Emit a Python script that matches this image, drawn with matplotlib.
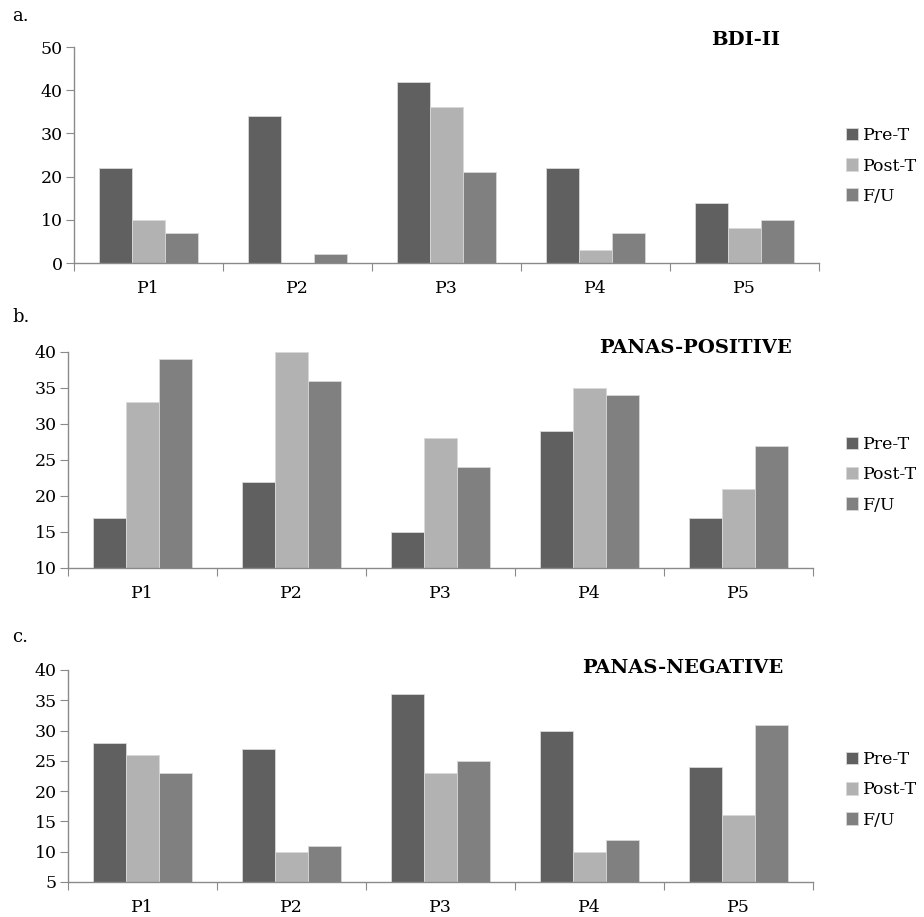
import matplotlib
matplotlib.use("Agg")
import matplotlib.pyplot as plt
import numpy as np

plt.rcParams['font.family'] = ['DejaVu Serif']

participants = ['P1', 'P2', 'P3', 'P4', 'P5']
series_names = ['Pre-T', 'Post-T', 'F/U']
colors = ['#606060', '#b2b2b2', '#808080']

bdi_pre = [22, 34, 42, 22, 14]
bdi_post = [10, 0, 36, 3, 8]
bdi_fu = [7, 2, 21, 7, 10]

pos_pre = [17, 22, 15, 29, 17]
pos_post = [33, 40, 28, 35, 21]
pos_fu = [39, 36, 24, 34, 27]

neg_pre = [28, 27, 36, 30, 24]
neg_post = [26, 10, 23, 10, 16]
neg_fu = [23, 11, 25, 12, 31]

W, H = 924, 917
fig = plt.figure(figsize=(W / 100, H / 100), dpi=100)


def px_axes(left, right, top, bottom):
    return fig.add_axes([left / W, 1 - bottom / H, (right - left) / W, (bottom - top) / H])


def draw_panel(ax, data, ylim, yticks, title, title_xy, letter, letter_xy, legend_xy):
    x = np.arange(len(participants))
    bw = 0.22
    bars = []
    for i, vals in enumerate(data):
        b = ax.bar(x + (i - 1) * bw, np.array(vals) - ylim[0], bw, bottom=ylim[0],
                   color=colors[i], edgecolor='#d8d8d8', linewidth=0.6, label=series_names[i])
        bars.append(b)
    ax.set_xlim(-0.5, len(participants) - 0.5)
    ax.set_ylim(*ylim)
    ax.set_yticks(yticks)
    ax.set_xticks(np.arange(-0.5, len(participants)), minor=False)
    ax.set_xticklabels([])
    ax.set_xticks(x, minor=True)
    ax.set_xticklabels(participants, minor=True)
    ax.tick_params(axis='x', which='minor', length=0, pad=12, labelsize=12.5)
    ax.tick_params(axis='x', which='major', length=6, color='#8a8a8a', direction='out')
    ax.tick_params(axis='y', length=6, color='#8a8a8a', labelsize=12.5, pad=2)
    for s in ['top', 'right']:
        ax.spines[s].set_visible(False)
    for s in ['left', 'bottom']:
        ax.spines[s].set_color('#8a8a8a')
        ax.spines[s].set_linewidth(1.0)
    fig.text(title_xy[0] / W, 1 - title_xy[1] / H, title, ha='center', va='center',
             fontsize=14, fontweight='bold')
    fig.text(letter_xy[0] / W, 1 - letter_xy[1] / H, letter, ha='left', va='center',
             fontsize=13)
    ax.legend(loc='center left', bbox_to_anchor=(legend_xy[0] / W, 1 - legend_xy[1] / H),
              bbox_transform=fig.transFigure, frameon=False, fontsize=12.5,
              handlelength=0.7, handleheight=0.7, handletextpad=0.3, labelspacing=0.75,
              borderpad=0, borderaxespad=0)


ax1 = px_axes(74, 819, 47, 263)
draw_panel(ax1, [bdi_pre, bdi_post, bdi_fu], (0, 50), range(0, 51, 10),
           'BDI-II', (746, 40), 'a.', (12, 16), (846, 166))

ax2 = px_axes(68, 813, 352, 568)
draw_panel(ax2, [pos_pre, pos_post, pos_fu], (10, 40), range(10, 41, 5),
           'PANAS-POSITIVE', (695, 348), 'b.', (12, 317), (846, 475))

ax3 = px_axes(68, 813, 670, 882)
draw_panel(ax3, [neg_pre, neg_post, neg_fu], (5, 40), range(5, 41, 5),
           'PANAS-NEGATIVE', (683, 668), 'c.', (12, 637), (846, 790))

fig.savefig('out.png', dpi=100, facecolor='white')
